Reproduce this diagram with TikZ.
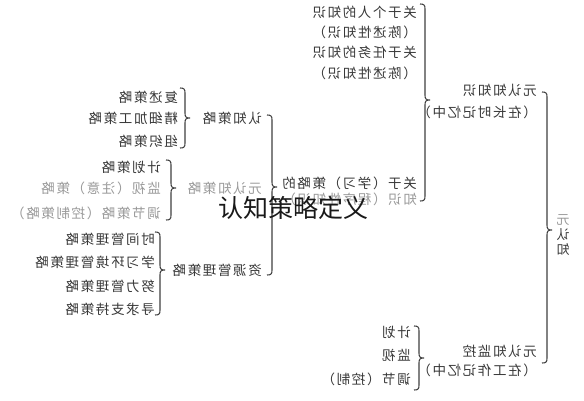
\documentclass[tikz,border=0pt]{standalone}
\usepackage{fontspec}
\setmainfont{Noto Sans CJK SC}[LetterSpace=12]
\newfontfamily\wmfont{Noto Sans CJK SC}
\newcommand\mirtxt[1]{\reflectbox{#1}}
\newcommand\mybrace[4]{%
  \draw[br] (#1-5,#2) .. controls (#1-1,#2) and (#1,#2+1) .. (#1,#2+5)
    -- (#1,#3-5) .. controls (#1,#3-1) and (#1+1,#3) .. (#1+5,#3)
    .. controls (#1+1,#3) and (#1,#3+1) .. (#1,#3+5)
    -- (#1,#4-5) .. controls (#1,#4-1) and (#1-1,#4) .. (#1-5,#4);}
\tikzset{
  txt/.style={inner sep=0pt, font=\fontsize{13.5}{14}\selectfont, text=black!78},
  leaf/.style={txt, anchor=east},
  gry/.style={text=black!40},
  br/.style={draw=black!75, line width=1.1pt},
}
\begin{document}
\begin{tikzpicture}[x=1pt,y=-1pt]
\useasboundingbox[fill=white] (0,0) rectangle (584,400);
% cognitive strategies
\node[leaf] (c1) at (178,97) {\mirtxt{复述策略}};
\node[leaf] (c2) at (178,118) {\mirtxt{精细加工策略}};
\node[leaf] (c3) at (178,141) {\mirtxt{组织策略}};
\mybrace{185}{88}{118}{148}
\node[leaf] (cs) at (262,118) {\mirtxt{认知策略}};
% metacognitive strategies
\node[leaf] (m1) at (161,167) {\mirtxt{计划策略}};
\node[leaf,gry] (m2) at (161,188) {\mirtxt{监视（注意）策略}};
\node[leaf,gry] (m3) at (161,213) {\mirtxt{调节策略（控制策略）}};
\mybrace{171}{160}{188}{220}
\node[leaf,gry] (ms) at (262,188) {\mirtxt{元认知策略}};
% resource management
\node[leaf] (r1) at (155,239) {\mirtxt{时间管理策略}};
\node[leaf] (r2) at (155,262) {\mirtxt{学习环境管理策略}};
\node[leaf] (r3) at (155,286) {\mirtxt{努力管理策略}};
\node[leaf] (r4) at (155,309) {\mirtxt{寻求支持策略}};
\mybrace{160}{232}{270}{315}
\node[leaf] (rs) at (262,270) {\mirtxt{资源管理策略}};
% strategy knowledge
\mybrace{272}{115}{187}{275}
\node[leaf] (k3a) at (417,183) {\mirtxt{关于（学习）策略的}};
\node[leaf,gry] (k3b) at (417,199) {\mirtxt{知识（程序性知识）}};
\node[leaf] (k1a) at (417,12) {\mirtxt{关于个人的知识}};
\node[leaf] (k1b) at (417,32) {\mirtxt{（陈述性知识）}};
\node[leaf] (k2a) at (417,52) {\mirtxt{关于任务的知识}};
\node[leaf] (k2b) at (417,73) {\mirtxt{（陈述性知识）}};
\mybrace{425}{4}{100}{201}
\node[leaf] (mka) at (537,90) {\mirtxt{元认知知识}};
\node[leaf] (mkb) at (537,112) {\mirtxt{（在长时记忆中）}};
% monitoring
\node[leaf] (p1) at (411,332) {\mirtxt{计划}};
\node[leaf] (p2) at (411,355) {\mirtxt{监视}};
\node[leaf] (p3) at (411,379) {\mirtxt{调节（控制）}};
\mybrace{419}{326}{358}{390}
\node[leaf] (mma) at (537,351) {\mirtxt{元认知监控}};
\node[leaf] (mmb) at (537,370) {\mirtxt{（在工作记忆中）}};
% metacognition
\mybrace{547}{92}{230}{363}
\node[txt,gry,font=\fontsize{13}{13}\selectfont] (mc1) at (563,220) {\mirtxt{元}};
\node[txt,font=\fontsize{13}{13}\selectfont] (mc2) at (563,235) {\mirtxt{认}};
\node[txt,font=\fontsize{13}{13}\selectfont] (mc3) at (563,250) {\mirtxt{知}};
% watermark
\node[inner sep=0pt, font=\wmfont\fontsize{25}{25}\selectfont, text=black!90] (wm) at (293,208) {认知策略定义};
\end{tikzpicture}
\end{document}
